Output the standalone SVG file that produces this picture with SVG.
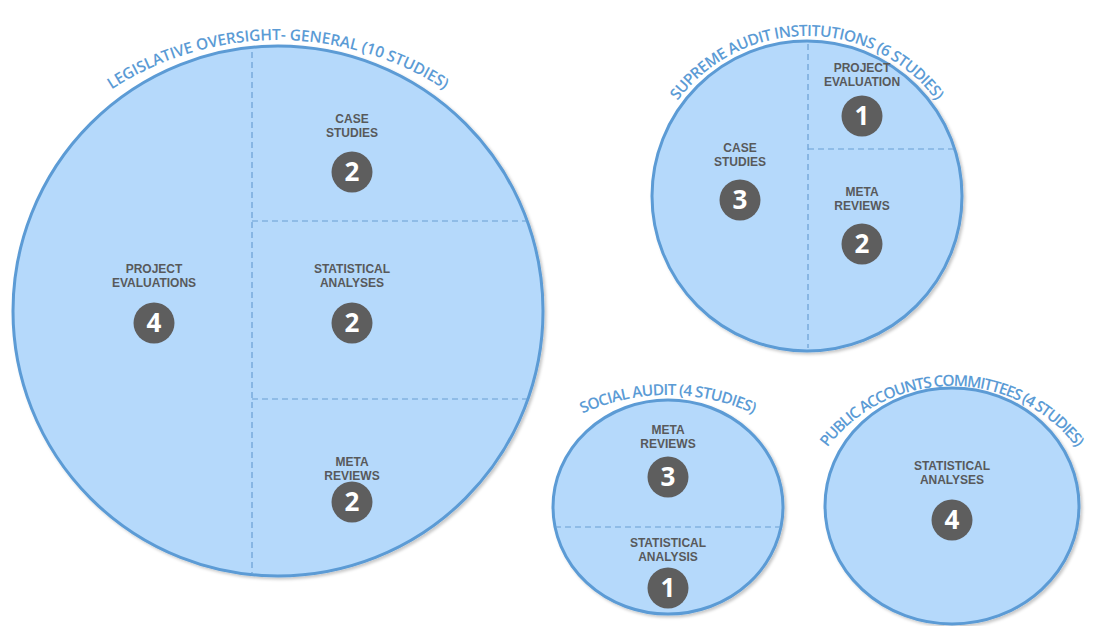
<svg xmlns="http://www.w3.org/2000/svg" width="1093" height="626" viewBox="0 0 1093 626">
<style>
.bub{fill:#b5d9fb;stroke:#5b9bd5;stroke-width:3;filter:url(#sh)}
.div{stroke:#6a9fd4;stroke-width:1.2;stroke-dasharray:6 4;fill:none}
.lbl{font-family:"Liberation Sans",Arial,sans-serif;font-weight:700;font-size:12px;fill:#58595b;text-anchor:middle}
.arc{font-family:"Open Sans","Liberation Sans",sans-serif;font-weight:600;font-size:15.5px;fill:#5b9bd5}
.bdg{fill:#5e5e5e}
.num{font-family:"Open Sans","Liberation Sans",sans-serif;font-weight:700;font-size:26px;fill:#ffffff;text-anchor:middle}
</style>
<defs>
<filter id="sh" x="-5%" y="-5%" width="112%" height="112%">
<feDropShadow dx="2" dy="2" stdDeviation="1.5" flood-color="#000" flood-opacity="0.22"/>
</filter>
<path id="p1" d="M 82,111.4 A 305 305 0 0 1 474,111.4"/>
<path id="p2" d="M 667.1,116.75 A 161.5 161.5 0 0 1 946.9,116.75"/>
<path id="p3" d="M 565.5,422.5 A 205 205 0 0 1 770.5,422.5"/>
<path id="p4" d="M 816,464.5 A 157 157 0 0 1 1088,464.5"/>
</defs>

<g id="legislative">
<circle class="bub" cx="278" cy="311" r="265"/>
<text class="arc"><textPath href="#p1" startOffset="50%" text-anchor="middle" textLength="352" lengthAdjust="spacing">LEGISLATIVE OVERSIGHT- GENERAL (10 STUDIES)</textPath></text>
<text class="lbl"><tspan x="352" y="123">CASE</tspan><tspan x="352" y="137">STUDIES</tspan></text>
<circle class="bdg" cx="352" cy="172" r="20.5"/>
<text class="num" x="352" y="181">2</text>
<text class="lbl"><tspan x="352" y="273">STATISTICAL</tspan><tspan x="352" y="287">ANALYSES</tspan></text>
<circle class="bdg" cx="352" cy="323" r="20.5"/>
<text class="num" x="352" y="332">2</text>
<text class="lbl"><tspan x="352" y="466">META</tspan><tspan x="352" y="480">REVIEWS</tspan></text>
<circle class="bdg" cx="352" cy="502" r="20.5"/>
<text class="num" x="352" y="511">2</text>
<text class="lbl"><tspan x="154" y="273">PROJECT</tspan><tspan x="154" y="287">EVALUATIONS</tspan></text>
<circle class="bdg" cx="154" cy="323" r="20.5"/>
<text class="num" x="154" y="332">4</text>
</g>

<g id="supreme">
<circle class="bub" cx="807" cy="196" r="155"/>
<text class="arc"><textPath href="#p2" startOffset="50%" text-anchor="middle" textLength="300" lengthAdjust="spacing">SUPREME AUDIT INSTITUTIONS (6 STUDIES)</textPath></text>
<text class="lbl"><tspan x="862" y="72">PROJECT</tspan><tspan x="862" y="86">EVALUATION</tspan></text>
<circle class="bdg" cx="862" cy="116" r="20.5"/>
<text class="num" x="862" y="125">1</text>
<text class="lbl"><tspan x="740" y="152">CASE</tspan><tspan x="740" y="166">STUDIES</tspan></text>
<circle class="bdg" cx="740" cy="200" r="20.5"/>
<text class="num" x="740" y="209">3</text>
<text class="lbl"><tspan x="862" y="196">META</tspan><tspan x="862" y="210">REVIEWS</tspan></text>
<circle class="bdg" cx="862" cy="244" r="20.5"/>
<text class="num" x="862" y="253">2</text>
</g>

<g id="social">
<ellipse class="bub" cx="668" cy="507" rx="115" ry="107"/>
<text class="arc"><textPath href="#p3" startOffset="50%" text-anchor="middle" textLength="176" lengthAdjust="spacing">SOCIAL AUDIT (4 STUDIES)</textPath></text>
<text class="lbl"><tspan x="668" y="434">META</tspan><tspan x="668" y="448">REVIEWS</tspan></text>
<circle class="bdg" cx="668" cy="477" r="20.5"/>
<text class="num" x="668" y="486">3</text>
<text class="lbl"><tspan x="668" y="547">STATISTICAL</tspan><tspan x="668" y="561">ANALYSIS</tspan></text>
<circle class="bdg" cx="668" cy="588" r="20.5"/>
<text class="num" x="668" y="597">1</text>
</g>

<g id="public">
<ellipse class="bub" cx="952" cy="506" rx="127" ry="118"/>
<text class="arc"><textPath href="#p4" startOffset="50%" text-anchor="middle" textLength="288" lengthAdjust="spacing">PUBLIC ACCOUNTS COMMITTEES (4 STUDIES)</textPath></text>
<text class="lbl"><tspan x="952" y="470">STATISTICAL</tspan><tspan x="952" y="484">ANALYSES</tspan></text>
<circle class="bdg" cx="952" cy="520" r="20.5"/>
<text class="num" x="952" y="529">4</text>
</g>

<g id="connectors">
<line class="div" x1="252" y1="52" x2="252" y2="573"/>
<line class="div" x1="252" y1="221" x2="527" y2="221"/>
<line class="div" x1="252" y1="399" x2="527" y2="399"/>
<line class="div" x1="808" y1="44" x2="808" y2="348"/>
<line class="div" x1="808" y1="149" x2="955" y2="149"/>
<line class="div" x1="555" y1="527" x2="781" y2="527"/>
</g>
</svg>
